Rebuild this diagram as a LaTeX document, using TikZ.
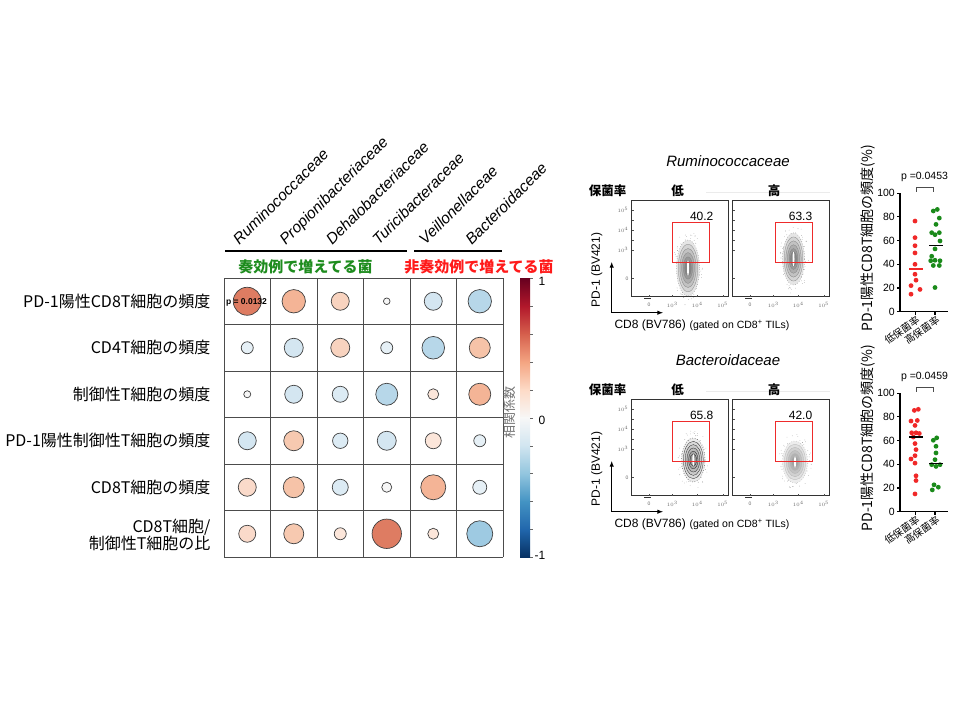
\documentclass[tikz,border=0pt]{standalone}
\usepackage{fontspec}
\setmainfont{Liberation Sans}
\newfontfamily\jp{Noto Sans CJK JP}
\usetikzlibrary{arrows.meta}
\definecolor{cA}{HTML}{DE7C62}
\definecolor{cB}{HTML}{F4B496}
\definecolor{cBb}{HTML}{F6C3A8}
\definecolor{cC}{HTML}{F8D3BF}
\definecolor{cCb}{HTML}{F7C9B0}
\definecolor{cD}{HTML}{FCE6DA}
\definecolor{cDb}{HTML}{FADACA}
\definecolor{wh}{HTML}{F6F6F6}
\definecolor{bD}{HTML}{E6F0F6}
\definecolor{bC}{HTML}{D4E6F1}
\definecolor{bCb}{HTML}{DCEBF4}
\definecolor{bB}{HTML}{B7D7E9}
\definecolor{bA}{HTML}{9ECAE2}
\definecolor{rb0}{HTML}{67001F}
\definecolor{rb1}{HTML}{B2182B}
\definecolor{rb2}{HTML}{D6604D}
\definecolor{rb3}{HTML}{F4A582}
\definecolor{rb4}{HTML}{FDDBC7}
\definecolor{rb5}{HTML}{F7F7F7}
\definecolor{rb6}{HTML}{D1E5F0}
\definecolor{rb7}{HTML}{92C5DE}
\definecolor{rb8}{HTML}{4393C3}
\definecolor{rb9}{HTML}{2166AC}
\definecolor{rb10}{HTML}{053061}
\definecolor{okgreen}{HTML}{1E8C1E}
\definecolor{ngred}{HTML}{FF1A1A}
\definecolor{dotred}{HTML}{F02828}
\definecolor{dotgreen}{HTML}{1A8A1A}
\definecolor{gatered}{HTML}{EE2B2B}
\begin{document}
\begin{tikzpicture}[x=1pt,y=-1pt,
    gridline/.style={draw=black!70,line width=0.8pt},
    bubble/.style={draw=black!75,line width=0.7pt},
    rowlabel/.style={anchor=east,align=right,font=\jp\fontsize{16}{17}\selectfont},
    family/.style={anchor=base west,rotate=45,inner sep=0pt,font=\itshape\fontsize{15.5}{17}\selectfont},
    group/.style={font=\jp\bfseries\fontsize{15}{17}\selectfont},
    title/.style={font=\itshape\fontsize{15}{17}\selectfont},
    jpb/.style={font=\jp\bfseries\fontsize{12.5}{14}\selectfont},
    frame/.style={draw=black!80,line width=0.6pt},
    gate/.style={draw=gatered,line width=0.9pt},
    num/.style={font=\fontsize{12}{14}\selectfont},
    tick/.style={font=\fontsize{5}{6}\selectfont,text=black!60,inner sep=0.5pt},
    lab/.style={font=\fontsize{12}{14}\selectfont},
    axisarrow/.style={line width=1.1pt,-{Latex[length=6pt,width=4.5pt]}},
    plotaxis/.style={line width=1.1pt},
    ytick/.style={anchor=east,font=\fontsize{10.5}{12}\selectfont,inner sep=1pt},
    cat/.style={anchor=east,rotate=35,inner sep=0pt,font=\jp\fontsize{10}{12}\selectfont},
    pv/.style={font=\fontsize{10.5}{12}\selectfont},
    bracket/.style={draw=black!70,line width=0.8pt},
    ylabel/.style={rotate=90,font=\jp\fontsize{14}{16}\selectfont}]
\useasboundingbox (0,0) rectangle (960,720);
\fill[white] (0,0) rectangle (960,720);

\node[rowlabel] (r1) at (214,301.3) {PD-1陽性CD8T細胞の頻度};
\node[rowlabel] (r2) at (214,347.8) {CD4T細胞の頻度};
\node[rowlabel] (r3) at (214,394.3) {制御性T細胞の頻度};
\node[rowlabel] (r4) at (214,440.8) {PD-1陽性制御性T細胞の頻度};
\node[rowlabel] (r5) at (214,487.3) {CD8T細胞の頻度};
\node[rowlabel] (r6) at (214,534.5) {CD8T細胞/\\制御性T細胞の比};

\foreach \name [count=\c] in {Ruminococcaceae,Propionibacteriaceae,Dehalobacteriaceae,Turicibacteraceae,Veillonellaceae,Bacteroidaceae}
  \node[family] (fam\c) at ({224+46.5*(\c-0.5)-8},246) {\name};
\draw[line width=1.8pt] (225,250.7) -- (407,250.7);
\draw[line width=1.8pt] (414,250.7) -- (502,250.7);
\node[group,text=okgreen] (resp) at (305.5,266.7) {奏効例で増えてる菌};
\node[group,text=ngred] (nonresp) at (479,266.7) {非奏効例で増えてる菌};

\foreach \i in {0,...,6}{
  \draw[gridline] ({224+46.5*\i},278) -- ({224+46.5*\i},557);
  \draw[gridline] (224,{278+46.5*\i}) -- (503,{278+46.5*\i});
}
\foreach \c/\r/\rad/\col in {
    1/1/14/cA, 2/1/11.7/cB, 3/1/9/cC, 4/1/3.3/wh, 5/1/9/bC, 6/1/11.7/bB,
    1/2/6/bD, 2/2/9.5/bC, 3/2/9.5/cC, 4/2/6/bD, 5/2/11.3/bB, 6/2/10.5/cBb,
    1/3/3.5/wh, 2/3/9/bC, 3/3/8/bCb, 4/3/11/bB, 5/3/5.5/cD, 6/3/11/cB,
    1/4/9/bC, 2/4/10/cCb, 3/4/7.7/bCb, 4/4/9.5/bC, 5/4/8/cD, 6/4/6/bD,
    1/5/9/cDb, 2/5/10.5/cBb, 3/5/8/bCb, 4/5/5/wh, 5/5/12.5/cB, 6/5/7/bD,
    1/6/8.5/cDb, 2/6/10/cCb, 3/6/6/cD, 4/6/14.7/cA, 5/6/5.5/cD, 6/6/13/bA}
  \draw[bubble,fill=\col] ({224+46.5*(\c-0.5)},{278+46.5*(\r-0.5)}) circle[radius=\rad pt];
\node[font=\bfseries\fontsize{8.5}{10}\selectfont,inner sep=0pt] (pval) at (246.5,302.5) {p = 0.0132};

\foreach \k/\ca/\cb in {0/rb0/rb1,1/rb1/rb2,2/rb2/rb3,3/rb3/rb4,4/rb4/rb5,5/rb5/rb6,6/rb6/rb7,7/rb7/rb8,8/rb8/rb9,9/rb9/rb10}
  \shade[top color=\ca,bottom color=\cb] (520,{278.3+27.9*\k}) rectangle (530,{278.6+27.9*(\k+1)});
\foreach \k in {0,...,10}
  \draw[black!60,line width=0.4pt] (530,{278.3+27.9*\k}) -- (532.5,{278.3+27.9*\k});
\node[anchor=west,font=\fontsize{12}{14}\selectfont] (cbtop) at (535,281) {1};
\node[anchor=west,font=\fontsize{12}{14}\selectfont] (cbmid) at (535,420) {0};
\node[anchor=west,font=\fontsize{12}{14}\selectfont] (cbbot) at (531,555) {-1};
\node[rotate=90,text=black!55,font=\jp\fontsize{13}{15}\selectfont] (cblab) at (510,412) {相関係数};

\foreach \p/\dy/\fam/\lo/\hi in {1/0/Ruminococcaceae/40.2/63.3,2/199/Bacteroidaceae/65.8/42.0}{
  \begin{scope}[shift={(0,\dy)}]
    \node[title] (ttl\p) at (728,161.5) {\fam};
    \draw[black!8,line width=0.6pt] (706,192.7) -- (830,192.7);
    \node[jpb] (carry\p) at (607.5,190.7) {保菌率};
    \node[jpb] (low\p) at (677.7,190.7) {低};
    \node[jpb] (high\p) at (774,190.7) {高};
    \draw[frame] (631.7,200) rectangle (728.3,296.7);
    \draw[frame] (732.7,200) rectangle (829.3,296.7);
    \foreach \b in {0,101}{
      \foreach \yy in {210,220,230,240,250,278.3}
        \draw[black!70,line width=0.4pt] ({631.7+\b},\yy) -- ({633.7+\b},\yy);
      \foreach \xx in {649,672.3,697.3,722.7}
        \draw[black!70,line width=0.4pt] ({\xx+\b},296.7) -- ({\xx+\b},294.7);
      \fill[black!80] ({644+\b},297.6) rectangle ({651+\b},298.9);
      \node[tick] at ({649+\b},305) {0};
      \node[tick] at ({672.3+\b},305) {$10^3$};
      \node[tick] at ({697.3+\b},305) {$10^4$};
      \node[tick] at ({722.7+\b},305) {$10^5$};
    }
    \node[tick,anchor=east] at (629,210) {$10^5$};
    \node[tick,anchor=east] at (629,230) {$10^4$};
    \node[tick,anchor=east] at (629,250) {$10^3$};
    \node[tick,anchor=east] at (629,278.3) {0};
    \coordinate (org\p) at (611.7,312.7);
    \coordinate (yend\p) at (611.7,261.7);
    \coordinate (xend\p) at (663.3,312.7);
    \draw[axisarrow] (org\p) -- (yend\p);
    \draw[axisarrow] (org\p) -- (xend\p);
    \node[lab,rotate=90] (ylab\p) at (596.7,270) {PD-1 (BV421)};
    \node[lab,anchor=west] (xlab\p) at (611,325) {CD8 (BV786)};
    \node[anchor=west,font=\fontsize{10.5}{12}\selectfont] (gated\p) at (686,325.5) {(gated on CD8\textsuperscript{+} TILs)};
  \end{scope}
}

\pgfmathsetseed{11}
\foreach \cx/\cy/\rx/\ry/\edge/\gm in {688/268/11.5/28/50/1,793.5/259/11/26/50/1,693.3/460/11.7/22/92/0.9,795/462/12.5/21/30/0.75}{
  \foreach \n in {1,...,110}{
    \pgfmathsetmacro\aa{360*rnd}
    \pgfmathsetmacro\rr{1.35*sqrt(rnd)}
    \fill[black!50] ({\cx+\rx*\rr*cos(\aa)},{\cy+\ry*\rr*sin(\aa)}) circle[radius=0.3pt];
  }
  \pgfmathtruncatemacro\gv{\gm*10}
  \fill[black!\gv] (\cx,\cy) ellipse[x radius={\rx*1pt},y radius={\ry*1pt}];
  \draw[black!\edge,line width=0.5pt,dotted] (\cx,\cy) ellipse[x radius={\rx*1pt},y radius={\ry*1pt}];
  \foreach \s/\g in {0.85/17,0.7/24,0.55/32,0.4/40,0.28/48}{
    \pgfmathtruncatemacro\gv{\gm*\g}
    \draw[draw=black!\edge!white,line width=0.25pt,fill=black!\gv] (\cx,\cy) ellipse[x radius={\s*\rx*1pt},y radius={\s*\ry*1pt}];
  }
  \fill[white] (\cx,\cy) ellipse[x radius=1pt,y radius={0.28*\ry*1pt}];
}
\foreach \p/\dy in {1/0,2/199}{
  \begin{scope}[shift={(0,\dy)}]
    \draw[gate] (672.7,222.7) rectangle (709.8,262.7);
    \draw[gate] (775.5,222.7) rectangle (812.5,262.7);
  \end{scope}
}
\node[num] (lo1) at (701.7,216.7) {40.2};
\node[num] (hi1) at (800.5,216.7) {63.3};
\node[num] (lo2) at (701.7,415.7) {65.8};
\node[num] (hi2) at (800.5,415.7) {42.0};

\foreach \p/\yo/\pv in {1/311.7/0.0453,2/511.7/0.0459}{
  \coordinate (o\p) at (900,\yo);
  \coordinate (top\p) at (900,{\yo-118.5});
  \coordinate (right\p) at (948,\yo);
  \draw[plotaxis] (top\p) -- (o\p) -- (right\p);
  \foreach \v in {0,20,...,100}{
    \draw[plotaxis] (900,{\yo-1.185*\v}) -- (896.5,{\yo-1.185*\v});
    \node[ytick] at (896,{\yo-1.185*\v}) {\v};
  }
  \draw[plotaxis] (915.5,\yo) -- (915.5,{\yo+3.5});
  \draw[plotaxis] (935,\yo) -- (935,{\yo+3.5});
  \node[cat] (lowc\p) at (918.5,{\yo+7}) {低保菌率};
  \node[cat] (highc\p) at (938.5,{\yo+7}) {高保菌率};
  \draw[bracket] (916,{\yo-120}) -- (916,{\yo-124.4}) -- (933.3,{\yo-124.4}) -- (933.3,{\yo-120});
  \node[pv] (pv\p) at (924.5,{\yo-135}) {p =\pv};
  \node[ylabel] (yl\p) at (868.3,{\yo-73.4}) {PD-1陽性CD8T細胞の頻度(\%)};
}
\foreach \x/\v in {915/76.5,915/62.5,915/55.7,915/49.6,915/40,915/31.6,916/26.6,911/22,920/18.8,911/14.8}
  \fill[dotred] (\x,{311.7-1.185*\v}) circle[radius=2.4pt];
\foreach \x/\v in {937.3/86.3,933.3/85,939.3/79,936/73.7,931.7/66.7,939.3/66.7,935/65,940/59.7,935/53,931.7/46.8,935/43.4,930.7/43,940/43,933.3/39,939.3/39,935/20.4}
  \fill[dotgreen] (\x,{311.7-1.185*\v}) circle[radius=2.4pt];
\draw[dotred,line width=1.2pt] (909.3,{311.7-1.185*36}) -- (922.7,{311.7-1.185*36});
\draw[line width=1.2pt] (929.3,{311.7-1.185*56}) -- (942.7,{311.7-1.185*56});
\foreach \x/\v in {914.3/85.5,918.3/86.4,911/76.5,917.3/77,915/72.8,911.7/66.6,916/66.6,919.3/66,913.3/63,915/57.5,916/52.4,915/47.3,911/44.5,915/41,916/30.3,916/26.3,915/15}
  \fill[dotred] (\x,{511.7-1.185*\v}) circle[radius=2.4pt];
\foreach \x/\v in {936.7/62.3,933.3/60.3,936/55.2,936/49.6,935/43.9,931.7/39.7,940/39.7,936/38.2,934/22.7,938.3/20.7,932.3/18.4}
  \fill[dotgreen] (\x,{511.7-1.185*\v}) circle[radius=2.4pt];
\draw[line width=1.2pt] (909.3,{511.7-1.185*63}) -- (922.7,{511.7-1.185*63});
\draw[line width=1.2pt] (929.3,{511.7-1.185*41}) -- (942.7,{511.7-1.185*41});
\end{tikzpicture}
\end{document}
